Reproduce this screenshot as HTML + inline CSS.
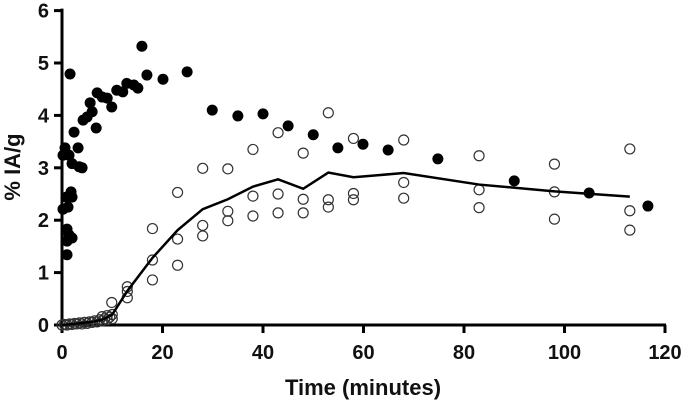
<!DOCTYPE html>
<html><head><meta charset="utf-8"><style>
html,body{margin:0;padding:0;background:#fff;}
svg text{font-family:"Liberation Sans",Arial,sans-serif;font-weight:bold;fill:#111;}
</style></head><body>
<svg id="chart" width="685" height="406" xmlns="http://www.w3.org/2000/svg"></svg>
<script>
const xTicks=[0,20,40,60,80,100,120];
const yTicks=[0,1,2,3,4,5,6];
const filledT=[15.9,1.6,16.9,20.1,24.9,15.1,14.3,12.9,12.1,10.9,9.9,9.0,8.0,7.0,5.6,6.0,5.0,4.2,6.8,2.4,3.2,4.0,3.4,2.0,1.4,0.6,0.2,1.8,0.9,2.0,0.2,1.2,1.0,1.4,2.0,1.0,1.0,29.9,35,40,45,50,54.9,59.9,64.9,74.8,90,104.9,116.6];
const filledV=[5.32,4.79,4.77,4.69,4.83,4.52,4.58,4.61,4.45,4.48,4.16,4.33,4.35,4.43,4.24,4.07,3.97,3.91,3.76,3.68,3.38,3.0,3.02,3.08,3.24,3.38,3.24,2.54,2.44,2.44,2.21,2.25,1.83,1.72,1.66,1.60,1.34,4.10,3.99,4.03,3.80,3.63,3.38,3.45,3.34,3.17,2.75,2.52,2.27];
const openT=[0,0.5,1,1.5,2,2.5,3,3.5,4,4.5,5,5.5,6,6.5,7,7.5,8,8.5,9,9.5,10,10,9,8,13,13,13,9.9,18,18,18,23,23,23,28,28,28,33,33,33,38,38,38,43,43,43,48,48,48,53,53,53,58,58,58,68,68,68,83,83,83,98,98,98,113,113,113];
const openV=[0,0.01,0,0.02,0.01,0.03,0.02,0.04,0.02,0.05,0.03,0.06,0.05,0.08,0.06,0.1,0.08,0.12,0.1,0.15,0.12,0.2,0.18,0.16,0.73,0.64,0.52,0.43,1.84,1.24,0.86,2.53,1.64,1.14,2.99,1.90,1.70,2.98,2.17,1.99,3.35,2.46,2.08,3.67,2.50,2.14,3.28,2.40,2.14,4.05,2.39,2.25,3.56,2.51,2.39,3.53,2.72,2.42,3.23,2.58,2.24,3.07,2.54,2.02,3.36,2.18,1.81];
const lineT=[0,2,4,6,8,10,13,18,23,28,33,38,43,48,53,58,68,83,98,113];
const lineV=[0,0.02,0.04,0.06,0.1,0.2,0.65,1.28,1.81,2.21,2.40,2.64,2.78,2.60,2.91,2.82,2.90,2.68,2.55,2.45];
const X0=62,X1=665,Y0=325,Y1=10.6;
const xs=t=>X0+(X1-X0)*t/120;
const ys=v=>Y0-(Y0-Y1)*v/6;
const svg=document.getElementById('chart');
const NS='http://www.w3.org/2000/svg';
function mk(tag,attrs){const e=document.createElementNS(NS,tag);for(const k in attrs)e.setAttribute(k,attrs[k]);svg.appendChild(e);return e;}
let e;
e=mk('line',{x1:X0,y1:Y0,x2:X1+1,y2:Y0,stroke:'#000','stroke-width':3});


e=mk('line',{x1:X0,y1:Y1-2,x2:X0,y2:Y0+8,stroke:'#000','stroke-width':3});


xTicks.forEach(t=>{
 e=mk('line',{x1:xs(t),y1:Y0,x2:xs(t),y2:Y0+8,stroke:'#000','stroke-width':3});
 
 
 e=mk('text',{x:xs(t),y:Y0+34,'text-anchor':'middle','font-size':20});
 e.textContent=t;
 
 
});
yTicks.forEach(v=>{
 e=mk('line',{x1:X0-8,y1:ys(v),x2:X0,y2:ys(v),stroke:'#000','stroke-width':3});
 
 
 e=mk('text',{x:X0-13,y:ys(v)+7,'text-anchor':'end','font-size':20});
 e.textContent=v;
 
 
});
e=mk('text',{x:363,y:395,'text-anchor':'middle','font-size':22});
e.textContent='Time (minutes)';


e=mk('text',{x:0,y:0,'text-anchor':'middle','font-size':22,transform:'translate(20,167) rotate(-90)'});
e.textContent='% IA/g';


openT.forEach((t,i)=>{
 e=mk('circle',{cx:xs(t),cy:ys(openV[i]),r:5,fill:'none',stroke:'#333','stroke-width':1.2});
 
 
});
e=mk('polyline',{points:lineT.map((t,i)=>xs(t)+','+ys(lineV[i])).join(' '),fill:'none',stroke:'#000','stroke-width':2.5});


filledT.forEach((t,i)=>{
 e=mk('circle',{cx:xs(t),cy:ys(filledV[i]),r:5.5,fill:'#000'});
 
 
});
</script>
</body></html>
